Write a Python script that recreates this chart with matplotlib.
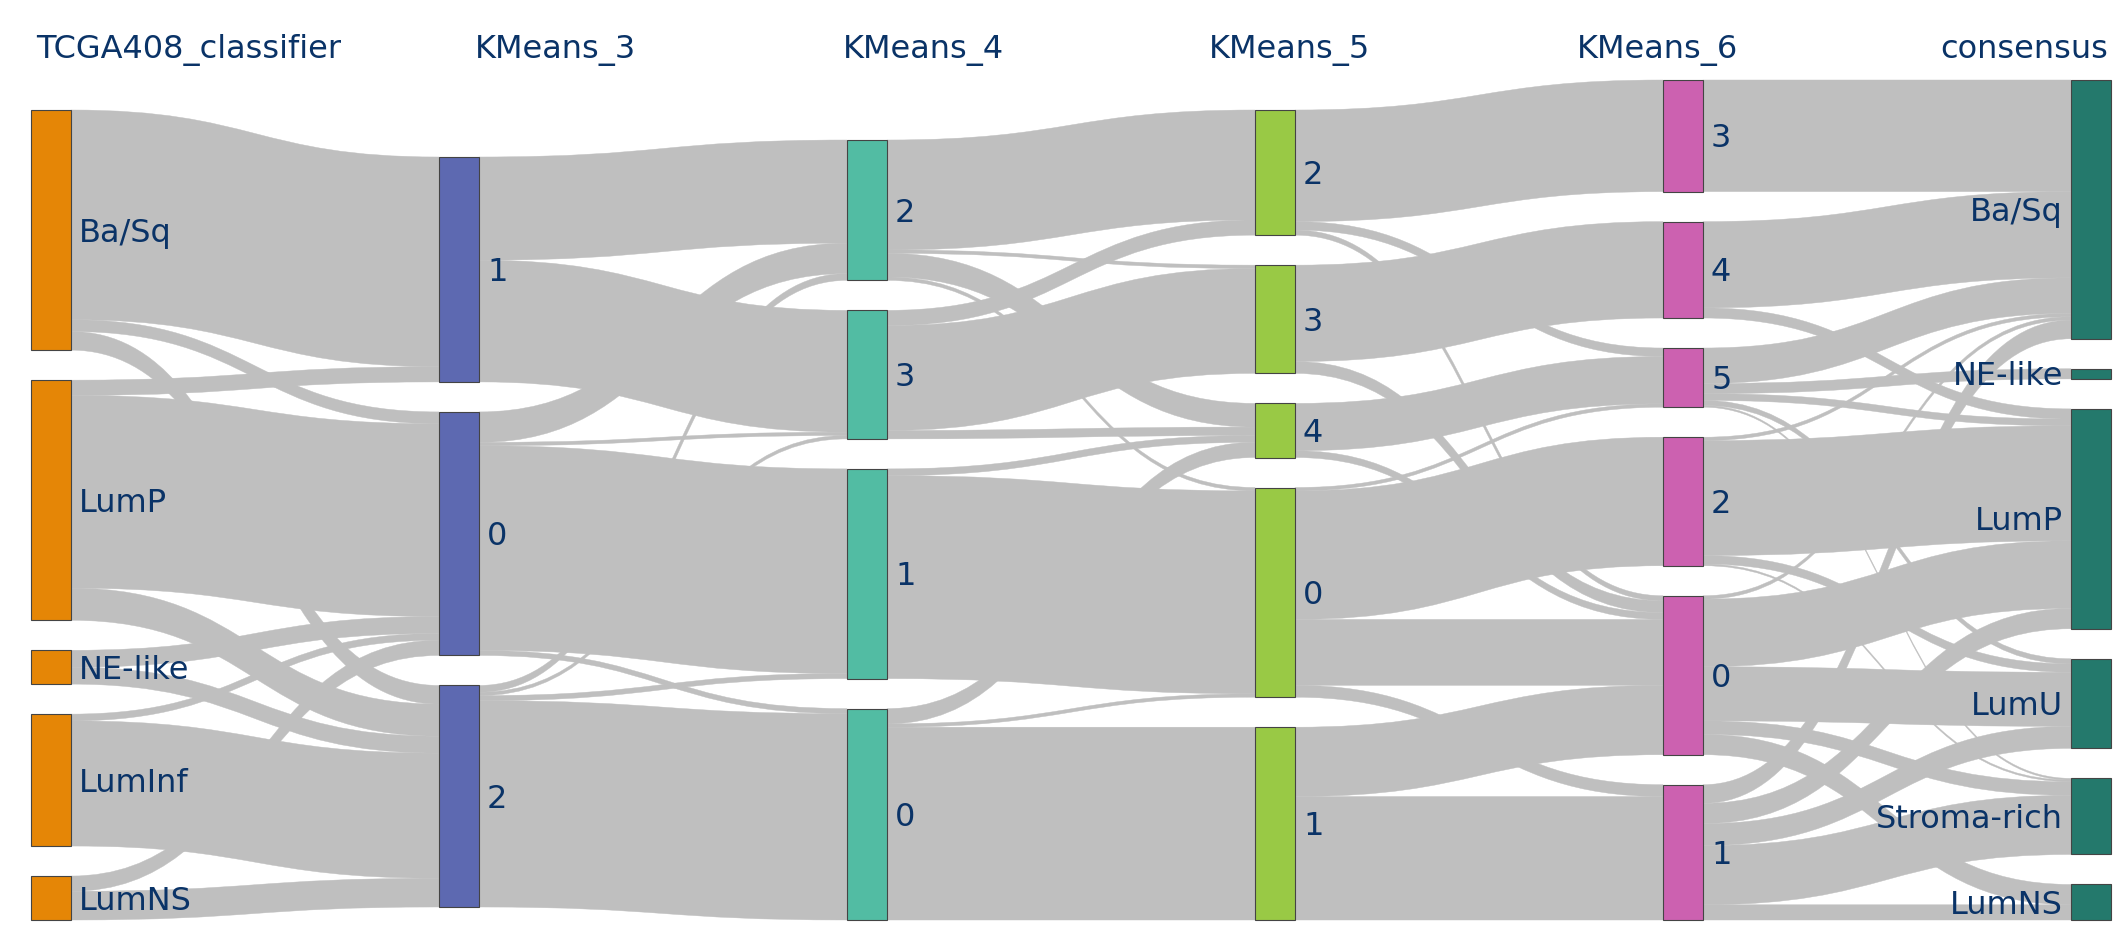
import numpy as np
import matplotlib
matplotlib.use('Agg')
import matplotlib.pyplot as plt
from matplotlib.path import Path
from matplotlib.patches import PathPatch, Rectangle

# Column titles and node labels (top to bottom as drawn)
stage_titles = ['TCGA408_classifier', 'KMeans_3', 'KMeans_4', 'KMeans_5', 'KMeans_6', 'consensus']
tcga_labels = ['Ba/Sq', 'LumP', 'NE-like', 'LumInf', 'LumNS']
km3_labels = ['1', '0', '2']
km4_labels = ['2', '3', '1', '0']
km5_labels = ['2', '3', '4', '0', '1']
km6_labels = ['3', '4', '5', '2', '0', '1']
consensus_labels = ['Ba/Sq', 'NE-like', 'LumP', 'LumU', 'Stroma-rich', 'LumNS']

# Samples moving between neighbouring columns (rows = source node, cols = target node)
tcga_to_km3 = [[124, 7, 11],
               [9, 114, 19],
               [0, 10, 10],
               [0, 4, 74],
               [0, 9, 17]]
km3_to_km4 = [[61, 72, 0, 0],
              [18, 2, 121, 3],
              [4, 2, 3, 122]]
km4_to_km5 = [[65, 2, 14, 2, 0],
              [9, 62, 5, 0, 0],
              [0, 0, 4, 120, 0],
              [0, 0, 9, 2, 114]]
km5_to_km6 = [[66, 0, 5, 0, 3, 0],
              [0, 57, 0, 0, 7, 0],
              [0, 0, 28, 0, 4, 0],
              [0, 0, 2, 76, 39, 7],
              [0, 0, 0, 0, 41, 73]]
km6_to_consensus = [[66, 0, 0, 0, 0, 0],
                    [51, 0, 6, 0, 0, 0],
                    [21, 6, 4, 3, 1, 0],
                    [2, 0, 68, 5, 1, 0],
                    [2, 0, 40, 32, 8, 12],
                    [11, 0, 12, 13, 35, 9]]

labels = [tcga_labels, km3_labels, km4_labels, km5_labels, km6_labels, consensus_labels]
flows = [tcga_to_km3, km3_to_km4, km4_to_km5, km5_to_km6, km6_to_consensus]
node_colors = ['#E58606', '#5D69B1', '#52BCA3', '#99C945', '#CC61B0', '#24796C']

# Layout (pixels)
W, H = 2126, 951
left, right = 31, 2111
top, bottom = 80, 920
node_w = 40
pad = 30
col_lift = [0, 13, 0, 0, 0, 0]
text_color = '#0a3367'
font_size = 23
font_px = font_size * 100 / 72
link_color = '#bfbfbf'

fig = plt.figure(figsize=(W / 100, H / 100), dpi=100)
ax = fig.add_axes([0, 0, 1, 1])
ax.set_xlim(0, W)
ax.set_ylim(H, 0)
ax.axis('off')

# node sizes from the flows
flows = [np.array(f, dtype=float) for f in flows]
values = [flows[0].sum(axis=1)] + [f.sum(axis=0) for f in flows]

n_cols = len(labels)
col_x = [left + i * (right - left - node_w) / (n_cols - 1) for i in range(n_cols)]
ky = min((bottom - top - (len(v) - 1) * pad) / v.sum() for v in values)

node_y = []
for c, v in enumerate(values):
    col_h = v.sum() * ky + (len(v) - 1) * pad
    y = bottom - col_lift[c] - col_h
    ys = []
    for val in v:
        ys.append((y, y + val * ky))
        y += val * ky + pad
    node_y.append(ys)


def link_patch(x0, x1, y0a, y0b, y1a, y1b):
    xm = (x0 + x1) / 2
    verts = [(x0, y0a), (xm, y0a), (xm, y1a), (x1, y1a),
             (x1, y1b), (xm, y1b), (xm, y0b), (x0, y0b), (x0, y0a)]
    codes = [Path.MOVETO, Path.CURVE4, Path.CURVE4, Path.CURVE4,
             Path.LINETO, Path.CURVE4, Path.CURVE4, Path.CURVE4, Path.CLOSEPOLY]
    return PathPatch(Path(verts, codes), facecolor=link_color, edgecolor=link_color,
                     lw=0.3, zorder=1)


# links
for s, f in enumerate(flows):
    src_off = [y0 for y0, _ in node_y[s]]
    tgt_off = [y0 for y0, _ in node_y[s + 1]]
    src_start = {}
    for i in range(f.shape[0]):
        for j in range(f.shape[1]):
            if f[i, j] > 0:
                src_start[(i, j)] = src_off[i]
                src_off[i] += f[i, j] * ky
    for j in range(f.shape[1]):
        for i in range(f.shape[0]):
            if f[i, j] > 0:
                w = f[i, j] * ky
                y0 = src_start[(i, j)]
                y1 = tgt_off[j]
                tgt_off[j] += w
                ax.add_patch(link_patch(col_x[s] + node_w, col_x[s + 1], y0, y0 + w, y1, y1 + w))

# nodes and labels
for c in range(n_cols):
    for k, (y0, y1) in enumerate(node_y[c]):
        ax.add_patch(Rectangle((col_x[c], y0), node_w, y1 - y0, facecolor=node_colors[c],
                               edgecolor='#444444', lw=0.8, zorder=3))
        yc = (y0 + y1) / 2 + 0.36 * font_px
        if c == n_cols - 1:
            ax.text(col_x[c] - 8, yc, labels[c][k], ha='right', va='baseline',
                    fontsize=font_size, color=text_color, zorder=4)
        else:
            ax.text(col_x[c] + node_w + 8, yc, labels[c][k], ha='left', va='baseline',
                    fontsize=font_size, color=text_color, zorder=4)

# column titles
title_x = np.linspace(189, 2024, n_cols)
for c, t in enumerate(stage_titles):
    ax.text(title_x[c], 58, t, ha='center', va='baseline', fontsize=font_size, color=text_color)

plt.savefig('out.png', dpi=100)
